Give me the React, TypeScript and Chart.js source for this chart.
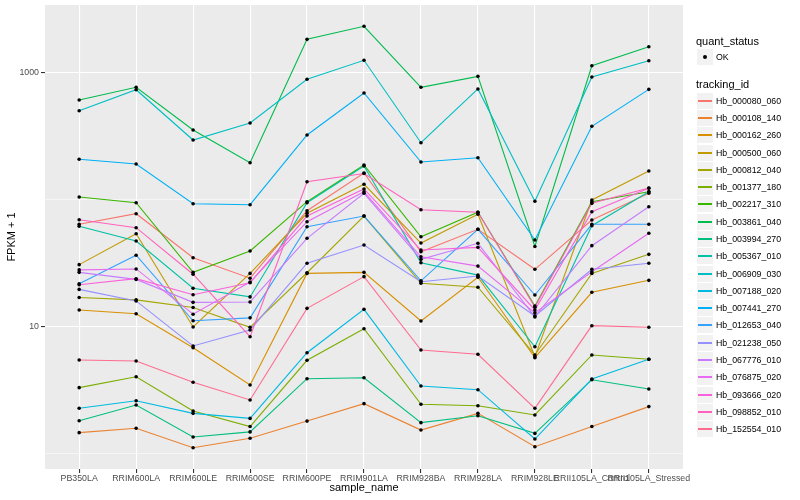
import React, { useEffect, useRef } from "react";
import { Chart, registerables } from "chart.js";

Chart.register(...registerables);

const samples = [
  "PB350LA", "RRIM600LA", "RRIM600LE", "RRIM600SE", "RRIM600PE", "RRIM901LA",
  "RRIM928BA", "RRIM928LA", "RRIM928LE", "RRII105LA_Control", "RRII105LA_Stressed",
];

const trackingIds = [
  "Hb_000080_060", "Hb_000108_140", "Hb_000162_260", "Hb_000500_060", "Hb_000812_040",
  "Hb_001377_180", "Hb_002217_310", "Hb_003861_040", "Hb_003994_270", "Hb_005367_010",
  "Hb_006909_030", "Hb_007188_020", "Hb_007441_270", "Hb_012653_040", "Hb_021238_050",
  "Hb_067776_010", "Hb_076875_020", "Hb_093666_020", "Hb_098852_010", "Hb_152554_010",
];

const seriesColors = [
  "#F8766D", "#EA8331", "#D89000", "#C09B00", "#A3A500", "#7CAE00", "#39B600",
  "#00BB4E", "#00BF7D", "#00C1A3", "#00BFC4", "#00BAE0", "#00B0F6", "#35A2FF",
  "#9590FF", "#C77CFF", "#E76BF3", "#FA62DB", "#FF62BC", "#FF6C90",
];

// FPKM + 1 values, one per sample
const hb_000080_060 = [63.8, 77.3, 34.8, 24.0, 81.6, 161.7, 38.8, 58.3, 28.2, 69.0, 111.9];
const hb_000108_140 = [1.46, 1.58, 1.11, 1.32, 1.8, 2.47, 1.53, 2.07, 1.13, 1.63, 2.34];
const hb_000162_260 = [13.5, 12.6, 6.81, 3.46, 26.2, 26.7, 11.05, 24.4, 5.68, 18.6, 23.1];
const hb_000500_060 = [30.7, 53.8, 9.91, 26.2, 77.9, 131.8, 45.4, 76.5, 5.78, 99.1, 167.6];
const hb_000812_040 = [16.9, 16.2, 14.1, 9.86, 26.5, 74.1, 21.9, 20.4, 5.97, 26.2, 37.0];
const hb_001377_180 = [3.3, 4.02, 2.16, 1.63, 5.42, 9.61, 2.44, 2.38, 2.01, 5.97, 5.52];
const hb_002217_310 = [104.6, 94.4, 26.7, 39.3, 96.1, 186.9, 50.9, 79.3, 14.5, 96.1, 115.2];
const hb_003861_040 = [607, 765, 352.5, 194.9, 1825, 2311, 765, 933, 42.7, 1131, 1596];
const hb_003994_270 = [1.81, 2.41, 1.35, 1.48, 3.88, 3.95, 1.75, 1.98, 1.44, 3.81, 3.22];
const hb_005367_010 = [61.5, 47.1, 20.0, 17.1, 94.4, 183.5, 31.8, 25.4, 6.93, 62.2, 115.2];
const hb_006909_030 = [500, 732, 294, 400, 884, 1248, 280, 742, 96.8, 922, 1238];
const hb_007188_020 = [2.27, 2.6, 2.07, 1.89, 6.22, 13.65, 3.4, 3.18, 1.3, 3.86, 5.52];
const hb_007441_270 = [207.3, 190.3, 92.7, 91.0, 322, 690, 197.3, 213.4, 48.0, 377, 737];
const hb_012653_040 = [21.7, 36.4, 11.1, 11.7, 61.1, 74.1, 22.9, 58.3, 17.7, 63.8, 63.8];
const hb_021238_050 = [19.6, 15.9, 7.02, 9.39, 31.5, 43.8, 22.5, 25.0, 12.1, 28.2, 31.5];
const hb_067776_010 = [26.7, 23.5, 15.5, 15.6, 49.5, 111.9, 33.8, 45.2, 11.9, 43.3, 87.8];
const hb_076875_020 = [27.9, 28.4, 12.5, 22.4, 66.9, 115.2, 35.4, 29.9, 12.8, 27.0, 54.2];
const hb_093666_020 = [21.3, 23.8, 17.8, 22.1, 74.1, 121.0, 40.0, 42.0, 13.5, 80.2, 122.5];
const hb_098852_010 = [69.3, 60.0, 25.8, 8.31, 138.1, 160.2, 83.1, 79.3, 14.2, 93.3, 123.2];
const hb_152554_010 = [5.45, 5.35, 3.64, 2.64, 13.9, 24.7, 6.53, 6.04, 2.27, 10.15, 9.86];

const seriesValues = [
  hb_000080_060, hb_000108_140, hb_000162_260, hb_000500_060, hb_000812_040,
  hb_001377_180, hb_002217_310, hb_003861_040, hb_003994_270, hb_005367_010,
  hb_006909_030, hb_007188_020, hb_007441_270, hb_012653_040, hb_021238_050,
  hb_067776_010, hb_076875_020, hb_093666_020, hb_098852_010, hb_152554_010,
];

const yGridValues = [1, 10, 100, 1000];
const yLabelled = [10, 1000];

const FONT = '"Liberation Sans", Arial, Helvetica, sans-serif';

const panelBg = {
  id: "panelBg",
  beforeDraw(chart: any) {
    const { ctx, chartArea: a } = chart;
    ctx.save();
    ctx.fillStyle = "#EBEBEB";
    ctx.fillRect(a.left, a.top, a.right - a.left, a.bottom - a.top);
    ctx.restore();
  },
};

export default function App() {
  const ref = useRef<HTMLCanvasElement | null>(null);

  useEffect(() => {
    if (!ref.current) return;
    const lineSets = seriesValues.map((vals, k) => ({
      label: trackingIds[k],
      data: vals.map((v, i) => ({ x: i, y: v })),
      borderColor: seriesColors[k],
      backgroundColor: seriesColors[k],
      borderWidth: 1.1,
      pointRadius: 0,
      tension: 0,
      fill: false,
      order: 20 - k,
    }));
    const pointSet = {
      label: "OK",
      data: seriesValues.flatMap((vals) => vals.map((v, i) => ({ x: i, y: v }))),
      showLine: false,
      pointRadius: 1.8,
      pointBackgroundColor: "#000000",
      pointBorderWidth: 0,
      borderColor: "#000000",
      order: 0,
    };
    const chart = new Chart(ref.current, {
      type: "line",
      data: { datasets: [...lineSets, pointSet] as any },
      plugins: [panelBg],
      options: {
        animation: false,
        responsive: false,
        devicePixelRatio: 1,
        layout: { padding: { left: 0, right: 117, top: 5, bottom: 0 } },
        plugins: { legend: { display: false }, tooltip: { enabled: false } },
        scales: {
          x: {
            type: "linear",
            min: -0.6,
            max: 10.6,
            afterBuildTicks: (s: any) => {
              s.ticks = samples.map((_, i) => ({ value: i }));
            },
            afterFit: (s: any) => {
              s.height = 31;
            },
            ticks: {
              autoSkip: false,
              maxRotation: 0,
              minRotation: 0,
              padding: 0,
              color: "#4D4D4D",
              font: { family: FONT, size: 8.8 },
              callback: (_v: any, i: number) => samples[i] ?? "",
            },
            grid: { color: "#FFFFFF", lineWidth: 1.1, tickColor: "#333333", tickLength: 4 },
            border: { display: false },
            title: {
              display: true,
              text: "sample_name",
              color: "#000000",
              font: { family: FONT, size: 11 },
              padding: { top: 0, bottom: 5 },
            },
          },
          y: {
            type: "logarithmic",
            min: 0.755,
            max: 3401,
            afterBuildTicks: (s: any) => {
              s.ticks = yGridValues.map((v) => ({ value: v }));
            },
            afterFit: (s: any) => {
              s.width = 45;
            },
            ticks: {
              padding: 2,
              color: "#4D4D4D",
              font: { family: FONT, size: 8.8, lineHeight: 0.4 },
              callback: (v: any) => (yLabelled.includes(Number(v)) ? String(v) : ""),
            },
            grid: {
              color: "#FFFFFF",
              lineWidth: (c: any) => (c.tick && yLabelled.includes(c.tick.value) ? 1.1 : 0.55),
              tickColor: (c: any) =>
                c.tick && yLabelled.includes(c.tick.value) ? "#333333" : "rgba(0,0,0,0)",
              tickLength: 4,
            },
            border: { display: false },
            title: {
              display: true,
              text: "FPKM + 1",
              color: "#000000",
              font: { family: FONT, size: 11 },
              padding: { top: 5.5, bottom: 0 },
            },
          },
        },
      } as any,
    });
    return () => chart.destroy();
  }, []);

  const legendRow0 = 100.7;
  const legendStep = 17.29;

  return (
    <div
      style={{
        position: "fixed",
        left: 0,
        top: 0,
        width: 800,
        height: 500,
        background: "#FFFFFF",
        fontFamily: FONT,
      }}
    >
      <canvas ref={ref} width={800} height={500} style={{ position: "absolute", left: 0, top: 0 }} />
      <div style={{ position: "absolute", left: 696, top: 34, fontSize: 11, lineHeight: "14px", color: "#000" }}>
        quant_status
      </div>
      <div style={{ position: "absolute", left: 697, top: 49, width: 16, height: 16, background: "#F2F2F2" }}>
        <div
          style={{
            position: "absolute",
            left: 6,
            top: 6,
            width: 4,
            height: 4,
            borderRadius: "50%",
            background: "#000",
          }}
        />
      </div>
      <div style={{ position: "absolute", left: 716, top: 51, fontSize: 8.8, lineHeight: "12px", color: "#000" }}>
        OK
      </div>
      <div style={{ position: "absolute", left: 696, top: 77, fontSize: 11, lineHeight: "14px", color: "#000" }}>
        tracking_id
      </div>
      {trackingIds.map((id, k) => {
        const cy = legendRow0 + legendStep * k;
        const boxTop = Math.round(cy - 8);
        return (
          <React.Fragment key={id}>
            <div
              style={{
                position: "absolute",
                left: 697,
                top: boxTop,
                width: 16,
                height: 16,
                background: "#F2F2F2",
              }}
            >
              <div
                style={{
                  position: "absolute",
                  left: 1,
                  top: 7,
                  width: 14,
                  height: 2,
                  background: seriesColors[k],
                }}
              />
            </div>
            <div
              style={{
                position: "absolute",
                left: 716,
                top: boxTop + 2,
                fontSize: 8.8,
                lineHeight: "12px",
                color: "#000",
                whiteSpace: "nowrap",
              }}
            >
              {id}
            </div>
          </React.Fragment>
        );
      })}
    </div>
  );
}
